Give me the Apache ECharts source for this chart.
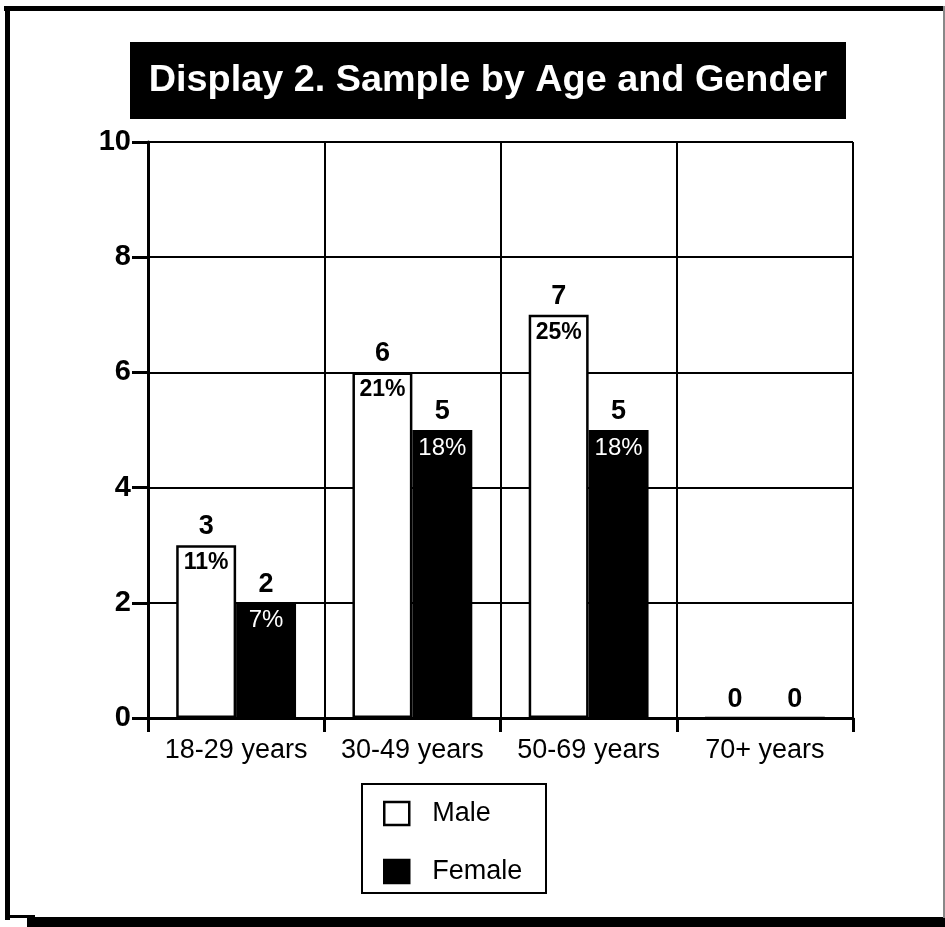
<!DOCTYPE html>
<html>
<head>
<meta charset="utf-8">
<style>
  html, body { margin: 0; padding: 0; background: #fff; }
  #chart { width: 945px; height: 927px; }
</style>
<script src="https://cdn.jsdelivr.net/npm/echarts@6/dist/echarts.min.js"></script>
</head>
<body>
<div id="chart"></div>
<script>
// Sample counts by age group and gender, with share of the total sample
var titleText = 'Display 2. Sample by Age and Gender';
var ageGroups = ['18-29 years', '30-49 years', '50-69 years', '70+ years'];
var maleCounts = [3, 6, 7, 0];
var femaleCounts = [2, 5, 5, 0];
var malePct = [11, 21, 25, 0];
var femalePct = [7, 18, 18, 0];
var yTicks = { min: 0, max: 10, step: 2 };
var legendNames = ['Male', 'Female'];

var FONT = "'Liberation Sans', Arial, Helvetica, sans-serif";

// zero-height caps stacked on each bar carry the count label above it
var capValues = ageGroups.map(function () { return 0; });

function pctLabel(arr) {
  return function (p) { return arr[p.dataIndex] > 0 ? arr[p.dataIndex] + '%' : ''; };
}
function countLabel(arr) {
  return function (p) { return String(arr[p.dataIndex]); };
}

var countStyle = { show: true, position: 'top', distance: 5, color: '#000',
  fontFamily: FONT, fontWeight: 'bold', fontSize: 27, formatter: null };

var chart = echarts.init(document.getElementById('chart'), null, { renderer: 'canvas' });

chart.setOption({
  animation: false,
  backgroundColor: '#fff',
  textStyle: { fontFamily: FONT },
  grid: { left: 148, right: 92, top: 142, bottom: 209, containLabel: false },
  legend: {
    data: legendNames,
    orient: 'vertical',
    left: 383,
    top: 800,
    itemWidth: 25,
    itemHeight: 23,
    itemGap: 31,
    icon: 'rect',
    selectedMode: false,
    padding: 0,
    itemStyle: { borderColor: '#000', borderWidth: 2.5 },
    textStyle: { color: '#000', fontSize: 27, fontFamily: FONT, padding: [0, 0, 0, 18] }
  },
  xAxis: {
    type: 'category',
    data: ageGroups,
    boundaryGap: true,
    axisLine: { lineStyle: { color: '#000', width: 3 } },
    axisTick: { show: true, interval: 0, alignWithLabel: false, length: 14, lineStyle: { color: '#000', width: 3 } },
    axisLabel: { interval: 0, color: '#000', fontSize: 27, fontFamily: FONT, margin: 19 },
    splitLine: { show: true, interval: 0, lineStyle: { color: '#000', width: 2 } }
  },
  yAxis: {
    type: 'value',
    min: yTicks.min,
    max: yTicks.max,
    interval: yTicks.step,
    axisLine: { show: true, lineStyle: { color: '#000', width: 3 } },
    axisTick: { show: true, length: 16, lineStyle: { color: '#000', width: 3 } },
    axisLabel: { color: '#000', fontSize: 29, fontWeight: 'bold', fontFamily: FONT, margin: 17 },
    splitLine: { show: true, lineStyle: { color: '#000', width: 2 } }
  },
  series: [
    {
      name: 'Male', type: 'bar', stack: 'male', data: maleCounts,
      barGap: '0%', barCategoryGap: '32%',
      itemStyle: { color: '#fff', borderColor: '#000', borderWidth: 2.5 },
      label: { show: true, position: 'insideTop', distance: 6, color: '#000',
        fontFamily: FONT, fontWeight: 'bold', fontSize: 23, formatter: pctLabel(malePct) },
      z: 3
    },
    {
      name: 'Female', type: 'bar', stack: 'female', data: femaleCounts,
      barGap: '0%', barCategoryGap: '32%',
      itemStyle: { color: '#000', borderColor: '#000', borderWidth: 2.5 },
      label: { show: true, position: 'insideTop', distance: 6, color: '#fff',
        fontFamily: FONT, fontWeight: 'normal', fontSize: 24, formatter: pctLabel(femalePct) },
      z: 3
    },
    {
      name: 'Male count', type: 'bar', stack: 'male', data: capValues,
      itemStyle: { color: 'rgba(0,0,0,0)', borderWidth: 0 },
      label: Object.assign({}, countStyle, { formatter: countLabel(maleCounts) }),
      z: 4
    },
    {
      name: 'Female count', type: 'bar', stack: 'female', data: capValues,
      itemStyle: { color: 'rgba(0,0,0,0)', borderWidth: 0 },
      label: Object.assign({}, countStyle, { formatter: countLabel(femaleCounts) }),
      z: 4
    }
  ],
  graphic: [
    // page frame
    { type: 'rect', shape: { x: 4, y: 6, width: 941, height: 5 }, style: { fill: '#000' }, silent: true },
    { type: 'rect', shape: { x: 5, y: 6, width: 5, height: 914 }, style: { fill: '#000' }, silent: true },
    { type: 'rect', shape: { x: 5, y: 915, width: 30, height: 3 }, style: { fill: '#000' }, silent: true },
    { type: 'rect', shape: { x: 27, y: 917, width: 918, height: 10 }, style: { fill: '#000' }, silent: true },
    { type: 'rect', shape: { x: 943, y: 6, width: 2, height: 912 }, style: { fill: '#888' }, silent: true },
    // title banner
    { type: 'rect', shape: { x: 130, y: 42, width: 716, height: 77 }, style: { fill: '#000' }, silent: true },
    { type: 'text', x: 488, y: 81, scaleX: 1.05,
      style: { text: titleText, fill: '#fff', font: 'bold 36px ' + FONT, textAlign: 'center', textVerticalAlign: 'middle' },
      silent: true },
    // legend box
    { type: 'rect', shape: { x: 362, y: 784, width: 184, height: 109 },
      style: { fill: 'none', stroke: '#000', lineWidth: 2 }, silent: true, z: -1 }
  ]
});
</script>
</body>
</html>
